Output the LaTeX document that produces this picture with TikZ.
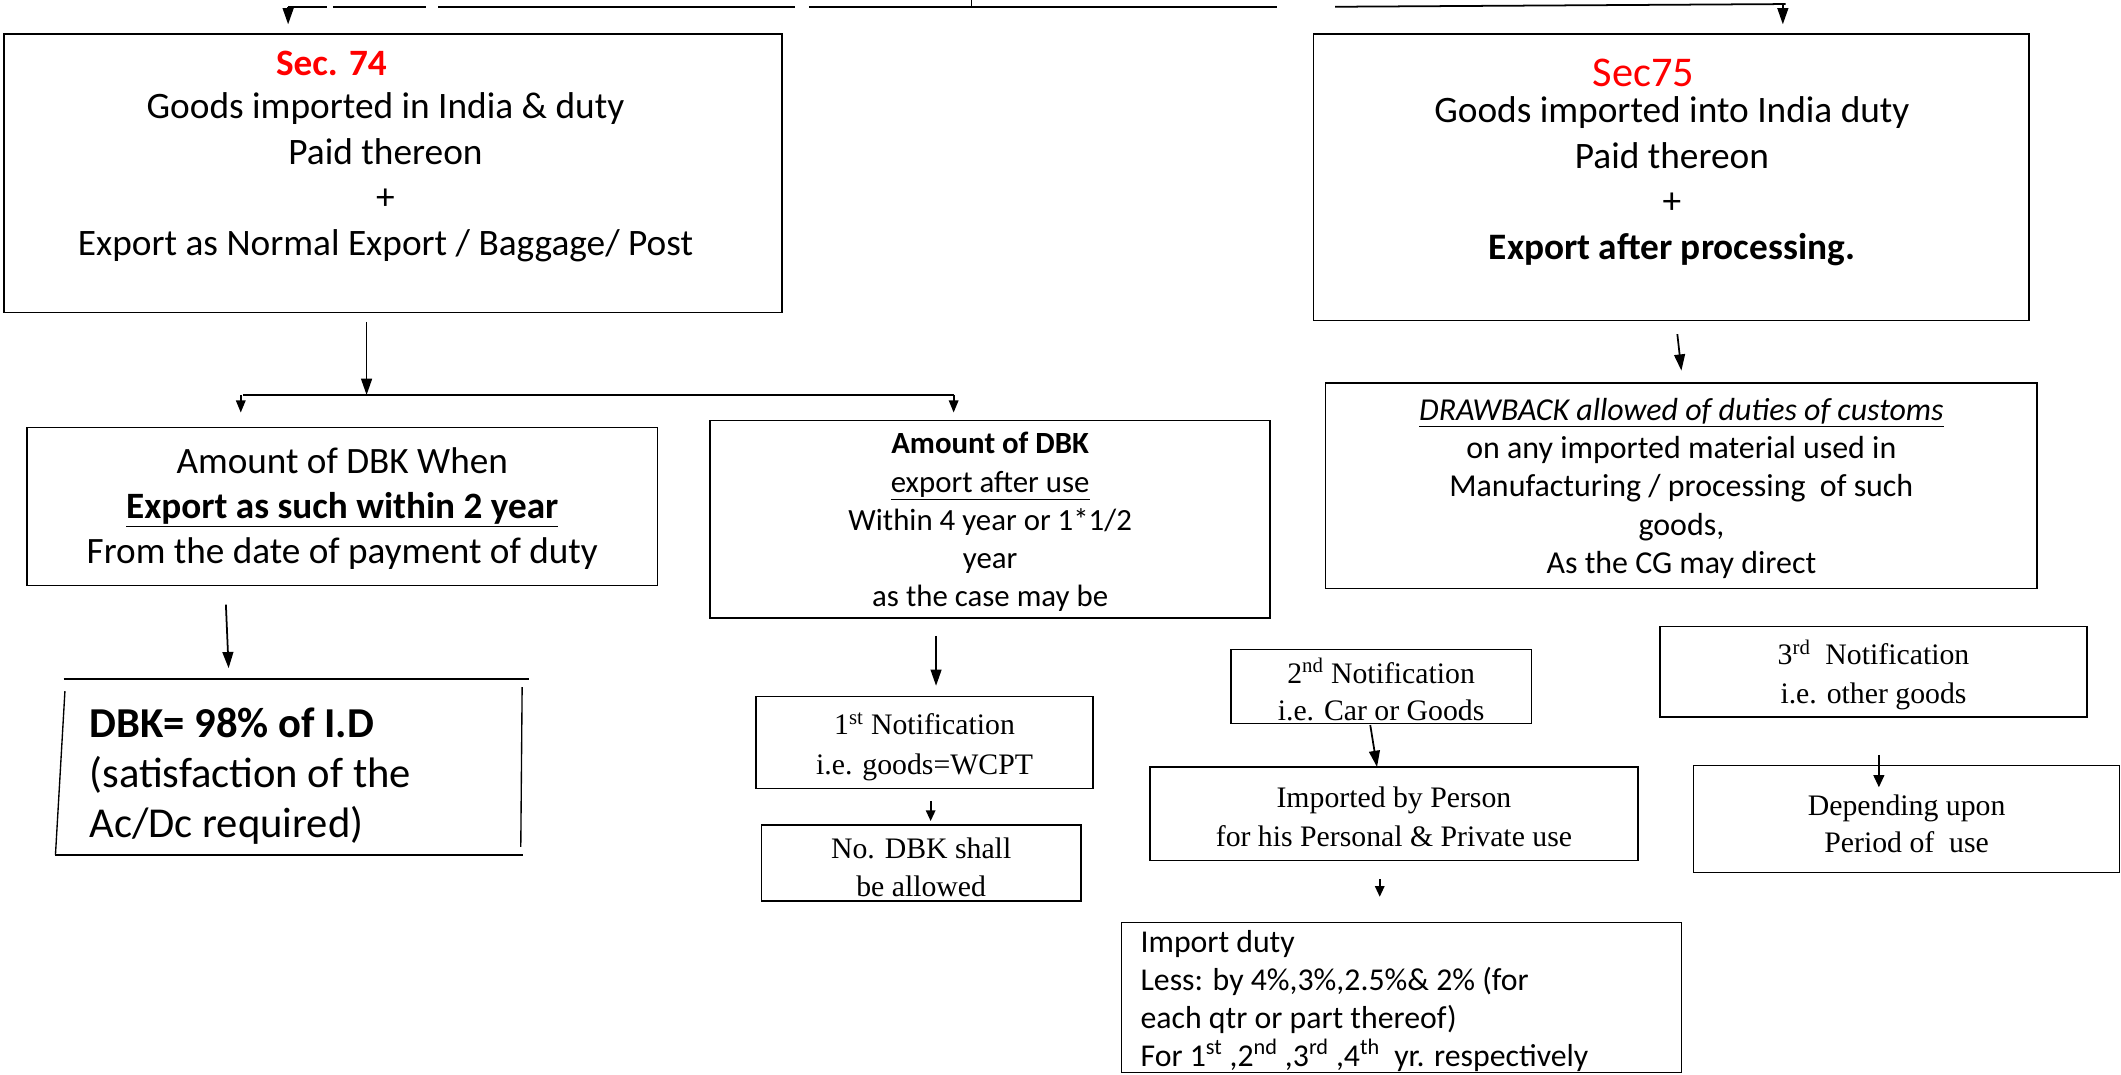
\documentclass[tikz,border=0pt]{standalone}
\usepackage{fontspec}
\newfontfamily\calfont{Carlito}
\newfontfamily\serfont{Liberation Serif}
\usetikzlibrary{arrows.meta}
\definecolor{secred}{RGB}{255,0,0}
\begin{document}
\begin{tikzpicture}[x=1pt,y=-1pt,
  box/.style={draw=black,line width=1.1pt,inner sep=0pt,minimum width=#1},
  txt/.style={align=center,inner sep=0pt},
  arr/.style={line width=1.3pt,-{Triangle[length=12pt,width=8pt]}},
  sarr/.style={line width=1.3pt,-{Triangle[length=9pt,width=7pt]}},
  ln/.style={line width=1.3pt}]
\useasboundingbox (0,0) rectangle (1568,794);

% ---- top (cropped) line ----
\coordinate (t1) at (213,5); \coordinate (t2) at (242,5);
\coordinate (t3) at (246,5); \coordinate (t4) at (315,5);
\coordinate (t5) at (324,5); \coordinate (t6) at (588,5);
\coordinate (t7) at (598,5); \coordinate (t8) at (944,5);
\coordinate (t9) at (987,5); \coordinate (t10) at (1320,3);
\coordinate (tv) at (718,0); \coordinate (tvb) at (718,5);
\coordinate (a74) at (213,18); \coordinate (a75) at (1318,18);
\coordinate (a75s) at (1318,3);
\draw[ln] (t1) -- (t2); \draw[ln] (t3) -- (t4); \draw[ln] (t5) -- (t6);
\draw[ln] (t7) -- (t8); \draw[ln] (t9) -- (t10);
\draw[line width=0.8pt] (tv) -- (tvb);
\draw[arr] (t1) -- (a74);
\draw[arr] (a75s) -- (a75);

% ---- Sec 74 ----
\node[box=575pt,minimum height=206pt] (s74) at (290.5,128) {};
\node[txt,font=\calfont\bfseries\fontsize{27.5}{30}\selectfont,text=secred] (s74t) at (245,47) {Sec. 74};
\node[txt,font=\calfont\fontsize{27.6}{33.7}\selectfont] (s74b) at (285,131) {Goods imported in India \& duty\\Paid thereon\\+\\Export as Normal Export / Baggage/ Post};

% ---- split ----
\coordinate (s74o) at (271,238);
\coordinate (sj) at (271,292);
\coordinate (sl) at (178,292); \coordinate (sr) at (705,292);
\coordinate (slb) at (178,305); \coordinate (srb) at (705,305);
\coordinate (sls) at (180,292);
\draw[arr] (s74o) -- (sj);
\draw[ln] (sls) -- (sr);
\draw[sarr] (sl) -- (slb);
\draw[sarr] (sr) -- (srb);

% ---- DBK when ----
\node[box=466pt,minimum height=117pt] (when) at (253,374.5) {};
\node[txt,font=\calfont\fontsize{27.5}{33}\selectfont] (whent) at (253,376) {Amount of DBK When\\\textbf{\underline{Export as such within 2 year}}\\From the date of payment of duty};

% ---- DBK = ----
\coordinate (d1) at (47,502); \coordinate (d2) at (391,502);
\coordinate (d3) at (48,511); \coordinate (d4) at (41,632);
\coordinate (d5) at (386,508); \coordinate (d6) at (385,626);
\coordinate (d7) at (387,632);
\draw[line width=1pt] (d1) -- (d2);
\draw[line width=1pt] (d3) -- (d4);
\draw[line width=1pt] (d5) -- (d6);
\draw[line width=1pt] (d4) -- (d7);
\node[txt,align=left,anchor=west,font=\calfont\fontsize{31.5}{37}\selectfont] (dbk) at (66,574) {\textbf{DBK= 98\% of I.D}\\(satisfaction of the\\Ac/Dc required)};
\coordinate (wo) at (167,447); \coordinate (wd) at (169,494);
\draw[arr] (wo) -- (wd);

% ---- Amount of DBK (after use) ----
\node[box=414pt,minimum height=146pt] (after) at (732,384) {};
\node[txt,font=\calfont\fontsize{22.8}{28.25}\selectfont] (aftert) at (732,386) {\textbf{Amount of DBK}\\\underline{export after use}\\Within 4 year or 1*1/2\\year\\as the case may be};
\coordinate (ao) at (692,470); \coordinate (ad) at (692,507);
\draw[arr] (ao) -- (ad);

% ---- 1st notification ----
\node[box=249pt,minimum height=68pt] (n1) at (683.5,549) {};
\node[txt,font=\serfont\fontsize{22}{29}\selectfont] (n1t) at (683.5,552) {1\textsuperscript{st} Notification\\i.e. goods=WCPT};
\node[box=236pt,minimum height=56pt] (nodbk) at (681,638) {};
\node[txt,font=\serfont\fontsize{22}{28}\selectfont] (nodbkt) at (681,641) {No. DBK shall\\be allowed};
\coordinate (n1o) at (688,592); \coordinate (n1d) at (688,607);
\draw[line width=1.3pt,-{Triangle[length=8pt,width=7pt]}] (n1o) -- (n1d);

% ---- Sec 75 ----
\node[box=529pt,minimum height=212pt] (s75) at (1235.5,131) {};
\node[txt,font=\calfont\fontsize{31.3}{34}\selectfont,text=secred] (s75t) at (1215,54) {Sec75};
\node[txt,font=\calfont\fontsize{27.6}{33.7}\selectfont] (s75b) at (1236,134) {Goods imported into India duty\\Paid thereon\\+\\\textbf{Export after processing.}};
\coordinate (s75o) at (1240,247); \coordinate (s75d) at (1243,274);
\draw[arr] (s75o) -- (s75d);

% ---- DRAWBACK ----
\node[box=526pt,minimum height=152pt] (dbx) at (1243,359) {};
\node[txt,font=\calfont\fontsize{23.6}{28.25}\selectfont] (dbxt) at (1243,361) {\textit{\underline{DRAWBACK allowed of duties of customs}}\\on any imported material used in\\Manufacturing / processing\ \ of such\\goods,\\As the CG may direct};

% ---- 2nd notification ----
\node[box=222pt,minimum height=55pt] (n2) at (1021,507.5) {};
\node[txt,font=\serfont\fontsize{22}{28}\selectfont] (n2t) at (1021,510) {2\textsuperscript{nd} Notification\\i.e. Car or Goods};
\node[box=361pt,minimum height=69pt] (imp) at (1030.5,601.5) {};
\node[txt,font=\serfont\fontsize{22}{29}\selectfont] (impt) at (1030.5,604) {Imported by Person\\for his Personal \& Private use};
\coordinate (n2o) at (1013,536); \coordinate (n2d) at (1018,567);
\draw[arr] (n2o) -- (n2d);
\coordinate (io) at (1020,650); \coordinate (id) at (1020,663);
\draw[line width=1.3pt,-{Triangle[length=8pt,width=7pt]}] (io) -- (id);

% ---- Import duty ----
\coordinate (i1) at (829,793); \coordinate (i2) at (829,682);
\coordinate (i3) at (1243,682); \coordinate (i4) at (1243,793);
\draw[line width=1.1pt] (i1) -- (i2) -- (i3) -- (i4) -- cycle;
\node[txt,align=left,anchor=west,font=\calfont\fontsize{23.5}{28.3}\selectfont] (idt) at (843,740) {Import duty\\Less: by 4\%,3\%,2.5\%\& 2\% (for\\each qtr or part thereof)\\For 1\textsuperscript{st} ,2\textsuperscript{nd} ,3\textsuperscript{rd} ,4\textsuperscript{th}\ \ yr. respectively};

% ---- 3rd notification ----
\node[box=316pt,minimum height=67pt] (n3) at (1385,496.5) {};
\node[txt,font=\serfont\fontsize{22}{29}\selectfont] (n3t) at (1385,499) {3\textsuperscript{rd}\ \ Notification\\i.e. other goods};
\node[box=315pt,minimum height=79pt] (dep) at (1409.5,605.5) {};
\node[txt,font=\serfont\fontsize{22}{28}\selectfont] (dept) at (1409.5,609) {Depending upon\\Period of\ \ use};
\coordinate (n3o) at (1389,558); \coordinate (n3d) at (1389,582);
\draw[line width=1.3pt,-{Triangle[length=9pt,width=8pt]}] (n3o) -- (n3d);
\end{tikzpicture}
\end{document}
